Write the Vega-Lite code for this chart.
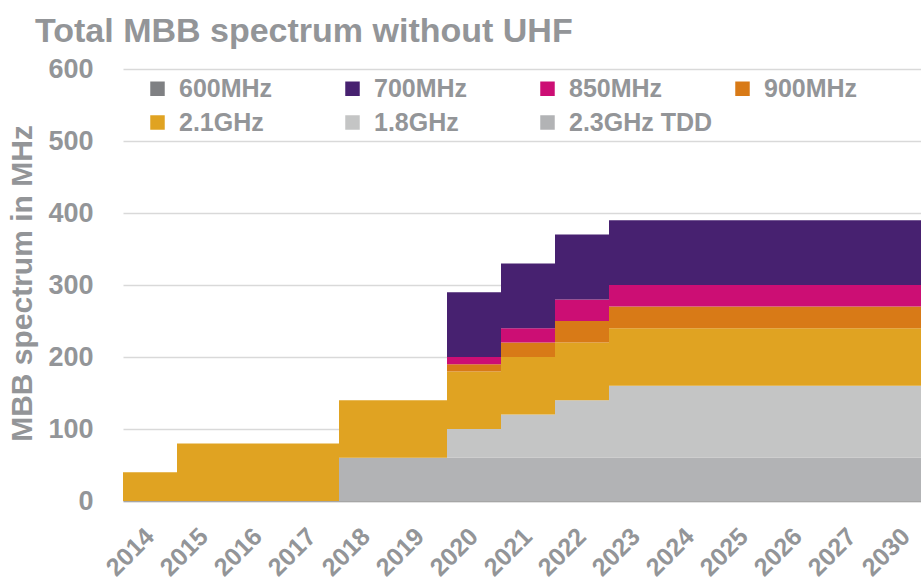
{
  "$schema": "https://vega.github.io/schema/vega-lite/v6.json",
  "width": 798,
  "height": 432,
  "autosize": {"type": "none"},
  "padding": {"left": 123, "top": 69, "right": 0, "bottom": 85},
  "background": "white",
  "title": {
    "text": "Total MBB spectrum without UHF",
    "anchor": "start",
    "frame": "group",
    "dx": -88,
    "dy": 35,
    "offset": 14,
    "baseline": "alphabetic",
    "font": "Liberation Sans",
    "fontSize": 34,
    "fontWeight": "bold",
    "color": "#939598"
  },
  "datasets": {
    "bands": [
      {"band": "2.3GHz TDD", "stackOrder": 1},
      {"band": "1.8GHz", "stackOrder": 2},
      {"band": "2.1GHz", "stackOrder": 3},
      {"band": "900MHz", "stackOrder": 4},
      {"band": "850MHz", "stackOrder": 5},
      {"band": "700MHz", "stackOrder": 6},
      {"band": "600MHz", "stackOrder": 7}
    ]
  },
  "data": {
    "values": [
      {"year": "2014", "band": "2.1GHz", "mhz": 40},
      {"year": "2015", "band": "2.1GHz", "mhz": 80},
      {"year": "2016", "band": "2.1GHz", "mhz": 80},
      {"year": "2017", "band": "2.1GHz", "mhz": 80},
      {"year": "2018", "band": "2.3GHz TDD", "mhz": 60},
      {"year": "2018", "band": "2.1GHz", "mhz": 80},
      {"year": "2019", "band": "2.3GHz TDD", "mhz": 60},
      {"year": "2019", "band": "2.1GHz", "mhz": 80},
      {"year": "2020", "band": "2.3GHz TDD", "mhz": 60},
      {"year": "2020", "band": "1.8GHz", "mhz": 40},
      {"year": "2020", "band": "2.1GHz", "mhz": 80},
      {"year": "2020", "band": "900MHz", "mhz": 10},
      {"year": "2020", "band": "850MHz", "mhz": 10},
      {"year": "2020", "band": "700MHz", "mhz": 90},
      {"year": "2021", "band": "2.3GHz TDD", "mhz": 60},
      {"year": "2021", "band": "1.8GHz", "mhz": 60},
      {"year": "2021", "band": "2.1GHz", "mhz": 80},
      {"year": "2021", "band": "900MHz", "mhz": 20},
      {"year": "2021", "band": "850MHz", "mhz": 20},
      {"year": "2021", "band": "700MHz", "mhz": 90},
      {"year": "2022", "band": "2.3GHz TDD", "mhz": 60},
      {"year": "2022", "band": "1.8GHz", "mhz": 80},
      {"year": "2022", "band": "2.1GHz", "mhz": 80},
      {"year": "2022", "band": "900MHz", "mhz": 30},
      {"year": "2022", "band": "850MHz", "mhz": 30},
      {"year": "2022", "band": "700MHz", "mhz": 90},
      {"year": "2023", "band": "2.3GHz TDD", "mhz": 60},
      {"year": "2023", "band": "1.8GHz", "mhz": 100},
      {"year": "2023", "band": "2.1GHz", "mhz": 80},
      {"year": "2023", "band": "900MHz", "mhz": 30},
      {"year": "2023", "band": "850MHz", "mhz": 30},
      {"year": "2023", "band": "700MHz", "mhz": 90},
      {"year": "2024", "band": "2.3GHz TDD", "mhz": 60},
      {"year": "2024", "band": "1.8GHz", "mhz": 100},
      {"year": "2024", "band": "2.1GHz", "mhz": 80},
      {"year": "2024", "band": "900MHz", "mhz": 30},
      {"year": "2024", "band": "850MHz", "mhz": 30},
      {"year": "2024", "band": "700MHz", "mhz": 90},
      {"year": "2025", "band": "2.3GHz TDD", "mhz": 60},
      {"year": "2025", "band": "1.8GHz", "mhz": 100},
      {"year": "2025", "band": "2.1GHz", "mhz": 80},
      {"year": "2025", "band": "900MHz", "mhz": 30},
      {"year": "2025", "band": "850MHz", "mhz": 30},
      {"year": "2025", "band": "700MHz", "mhz": 90},
      {"year": "2026", "band": "2.3GHz TDD", "mhz": 60},
      {"year": "2026", "band": "1.8GHz", "mhz": 100},
      {"year": "2026", "band": "2.1GHz", "mhz": 80},
      {"year": "2026", "band": "900MHz", "mhz": 30},
      {"year": "2026", "band": "850MHz", "mhz": 30},
      {"year": "2026", "band": "700MHz", "mhz": 90},
      {"year": "2027", "band": "2.3GHz TDD", "mhz": 60},
      {"year": "2027", "band": "1.8GHz", "mhz": 100},
      {"year": "2027", "band": "2.1GHz", "mhz": 80},
      {"year": "2027", "band": "900MHz", "mhz": 30},
      {"year": "2027", "band": "850MHz", "mhz": 30},
      {"year": "2027", "band": "700MHz", "mhz": 90},
      {"year": "2030", "band": "2.3GHz TDD", "mhz": 60},
      {"year": "2030", "band": "1.8GHz", "mhz": 100},
      {"year": "2030", "band": "2.1GHz", "mhz": 80},
      {"year": "2030", "band": "900MHz", "mhz": 30},
      {"year": "2030", "band": "850MHz", "mhz": 30},
      {"year": "2030", "band": "700MHz", "mhz": 90}
    ]
  },
  "transform": [
    {"lookup": "band", "from": {"data": {"name": "bands"}, "key": "band", "fields": ["stackOrder"]}}
  ],
  "mark": {"type": "bar", "strokeWidth": 0},
  "encoding": {
    "x": {
      "field": "year",
      "type": "ordinal",
      "scale": {"paddingInner": 0, "paddingOuter": 0, "range": [0, 810]},
      "axis": {
        "title": null,
        "labelAngle": -45,
        "labelAlign": "right",
        "labelBaseline": "middle",
        "labelPadding": 31,
        "ticks": false,
        "tickSize": 0,
        "domain": true,
        "domainColor": "#a6a6a6",
        "domainWidth": 1.5,
        "grid": false,
        "labelFont": "Liberation Sans",
        "labelFontWeight": "bold",
        "labelFontSize": 25,
        "labelColor": "#939598"
      }
    },
    "y": {
      "field": "mhz",
      "type": "quantitative",
      "stack": "zero",
      "scale": {"domain": [0, 600], "nice": false},
      "axis": {
        "values": [0, 100, 200, 300, 400, 500, 600],
        "domain": false,
        "ticks": false,
        "tickSize": 0,
        "labelPadding": 30,
        "labelFont": "Liberation Sans",
        "labelFontWeight": "bold",
        "labelFontSize": 27,
        "labelColor": "#939598",
        "grid": true,
        "gridColor": "#d9d9d9",
        "gridWidth": 1.5,
        "title": "MBB spectrum in MHz",
        "titleFont": "Liberation Sans",
        "titleFontWeight": "bold",
        "titleFontSize": 30,
        "titleColor": "#939598",
        "titleX": -92,
        "titleY": 214,
        "titleAngle": -90,
        "titleAlign": "center",
        "titleBaseline": "alphabetic"
      }
    },
    "color": {
      "field": "band",
      "type": "nominal",
      "scale": {
        "domain": ["600MHz", "700MHz", "850MHz", "900MHz", "2.1GHz", "1.8GHz", "2.3GHz TDD"],
        "range": ["#7f8083", "#472170", "#cc0e74", "#d87a17", "#e0a322", "#c4c5c5", "#b2b3b5"]
      },
      "legend": {
        "orient": "none",
        "legendX": 22,
        "legendY": 7,
        "direction": "horizontal",
        "columns": 4,
        "title": null,
        "symbolType": "square",
        "symbolSize": 210,
        "symbolStrokeWidth": 0,
        "labelFont": "Liberation Sans",
        "labelFontWeight": "bold",
        "labelFontSize": 25,
        "labelColor": "#939598",
        "labelOffset": 9,
        "labelLimit": 300,
        "columnPadding": 17,
        "rowPadding": 8,
        "gridAlign": "all"
      }
    },
    "order": {"field": "stackOrder", "type": "quantitative", "sort": "ascending"}
  },
  "config": {"view": {"stroke": null}}
}
